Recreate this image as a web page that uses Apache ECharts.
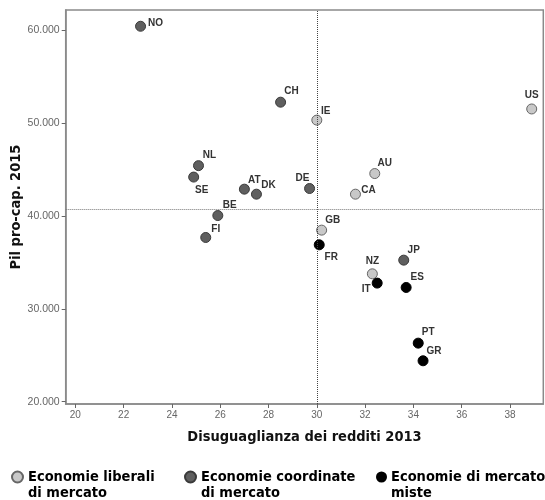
<!DOCTYPE html>
<html>
<head>
<meta charset="utf-8">
<script src="https://cdn.jsdelivr.net/npm/echarts@6/dist/echarts.min.js"></script>
<style>html,body{margin:0;padding:0;background:#fff}#c{width:545px;height:500px}</style>
</head>
<body>
<div id="c"></div>
<script>
// Data
const libNames = ['US','IE','AU','CA','GB','NZ'];
const libX = [38.9, 30.0, 32.4, 31.6, 30.2, 32.3];
const libY = [51500, 50300, 44550, 42330, 38460, 33760];

const coordNames = ['NO','CH','NL','SE','AT','DK','DE','BE','FI','JP'];
const coordX = [22.7, 28.5, 25.1, 24.9, 27.0, 27.5, 29.7, 25.9, 25.4, 33.6];
const coordY = [60400, 52230, 45400, 44170, 42870, 42330, 42940, 40030, 37670, 35230];

const mixNames = ['FR','IT','ES','PT','GR'];
const mixX = [30.1, 32.5, 33.7, 34.2, 34.4];
const mixY = [36880, 32760, 32290, 26300, 24400];

const seriesNames = ['Economie liberali di mercato', 'Economie coordinate di mercato', 'Economie di mercato miste'];
const legendLines = [
  ['Economie liberali', 'di mercato'],
  ['Economie coordinate', 'di mercato'],
  ['Economie di mercato', 'miste']
];
const xTicks = [20, 22, 24, 26, 28, 30, 32, 34, 36, 38];
const yTicks = [20000, 30000, 40000, 50000, 60000];
const refX = 30;
const refY = 40750;

// Label placement (style, offsets of label centre from point centre in px)
const labelOffset = {
  NO:[15,-3], NL:[11,-10], SE:[8,13], AT:[10,-9], DK:[12,-9], BE:[12,-10], FI:[10,-8],
  CH:[11,-11], IE:[9,-9], US:[0,-14], AU:[10,-10], DE:[-7,-10], CA:[13,-4], GB:[11,-10],
  FR:[12,12], NZ:[0,-13], IT:[-11,6], JP:[10,-10], ES:[11,-10], PT:[10,-11], GR:[11,-10]
};

function build(names, xs, ys) {
  return names.map((n, i) => ({
    name: n,
    value: [xs[i], ys[i]],
    label: { offset: labelOffset[n] || [10, -10] }
  }));
}

const condFont = '"DejaVu Sans Condensed", "Liberation Sans Narrow", "Arial Narrow", sans-serif';

const labelStyle = {
  show: true,
  position: 'inside',
  formatter: p => p.name,
  fontFamily: 'Liberation Sans, Arial, sans-serif',
  fontWeight: 'bold',
  fontSize: 10,
  color: '#333'
};

function legendFor(idx, left, size) {
  return {
    data: [seriesNames[idx]],
    left: left,
    top: 453,
    padding: 0,
    icon: 'circle',
    itemWidth: size,
    itemHeight: size,
    selectedMode: false,
    formatter: () => '\n' + legendLines[idx][0] + '\n' + legendLines[idx][1],
    textStyle: {
      fontFamily: condFont,
      fontWeight: 'bold',
      fontSize: 14.5,
      lineHeight: 16,
      color: '#000'
    }
  };
}

const chart = echarts.init(document.getElementById('c'));
chart.setOption({
  animation: false,
  backgroundColor: '#fff',
  grid: {
    left: 65.7, right: 1.7, top: 10, bottom: 96,
    outerBoundsMode: 'none',
    containLabel: false,
    show: true, borderColor: '#8a8a8a', borderWidth: 1.5, backgroundColor: 'transparent'
  },
  legend: [
    legendFor(0, 11, 11),
    legendFor(1, 184, 11),
    legendFor(2, 376, 9)
  ],
  xAxis: {
    type: 'value',
    min: 19.6, max: 39.38,
    name: 'Disuguaglianza dei redditi 2013',
    nameLocation: 'middle',
    nameGap: 26,
    nameTextStyle: { fontFamily: condFont, fontWeight: 'bold', fontSize: 14.5, color: '#111' },
    axisLine: { show: true, lineStyle: { color: '#8a8a8a', width: 1.5 } },
    axisTick: { show: true, length: 4, customValues: xTicks, lineStyle: { color: '#666' } },
    axisLabel: { customValues: xTicks, color: '#666', fontSize: 10, margin: 6, fontFamily: 'Liberation Sans, Arial, sans-serif' },
    splitLine: { show: false }
  },
  yAxis: {
    type: 'value',
    min: 19750, max: 62150,
    name: 'Pil pro-cap. 2015',
    nameLocation: 'middle',
    nameGap: 42,
    nameMoveOverlap: false,
    nameTextStyle: { fontFamily: condFont, fontWeight: 'bold', fontSize: 14.5, color: '#111' },
    axisLine: { show: true, lineStyle: { color: '#8a8a8a', width: 1.5 } },
    axisTick: { show: true, length: 4, customValues: yTicks, lineStyle: { color: '#666' } },
    axisLabel: {
      customValues: yTicks, color: '#666', fontSize: 10.5, margin: 6,
      fontFamily: 'Liberation Sans, Arial, sans-serif',
      formatter: v => Math.round(v / 1000) + '.000'
    },
    splitLine: { show: false }
  },
  series: [
    {
      name: seriesNames[0], type: 'scatter', symbolSize: 10,
      itemStyle: { color: '#c8c8c8', borderColor: '#666', borderWidth: 1, opacity: 1 },
      label: labelStyle,
      data: build(libNames, libX, libY),
      markLine: {
        silent: true, symbol: 'none', animation: false,
        label: { show: false },
        data: [
          { xAxis: refX, lineStyle: { color: '#444', type: 'dotted', width: 1 } },
          { yAxis: refY, lineStyle: { color: '#777', type: 'dotted', width: 1 } }
        ]
      },
      z: 3
    },
    {
      name: seriesNames[1], type: 'scatter', symbolSize: 10,
      itemStyle: { color: '#5f5f5f', borderColor: '#3a3a3a', borderWidth: 1, opacity: 1 },
      label: labelStyle,
      data: build(coordNames, coordX, coordY),
      z: 3
    },
    {
      name: seriesNames[2], type: 'scatter', symbolSize: 10,
      itemStyle: { color: '#000', borderColor: '#000', borderWidth: 1, opacity: 1 },
      label: labelStyle,
      data: build(mixNames, mixX, mixY),
      z: 3
    }
  ]
});
</script>
</body>
</html>
